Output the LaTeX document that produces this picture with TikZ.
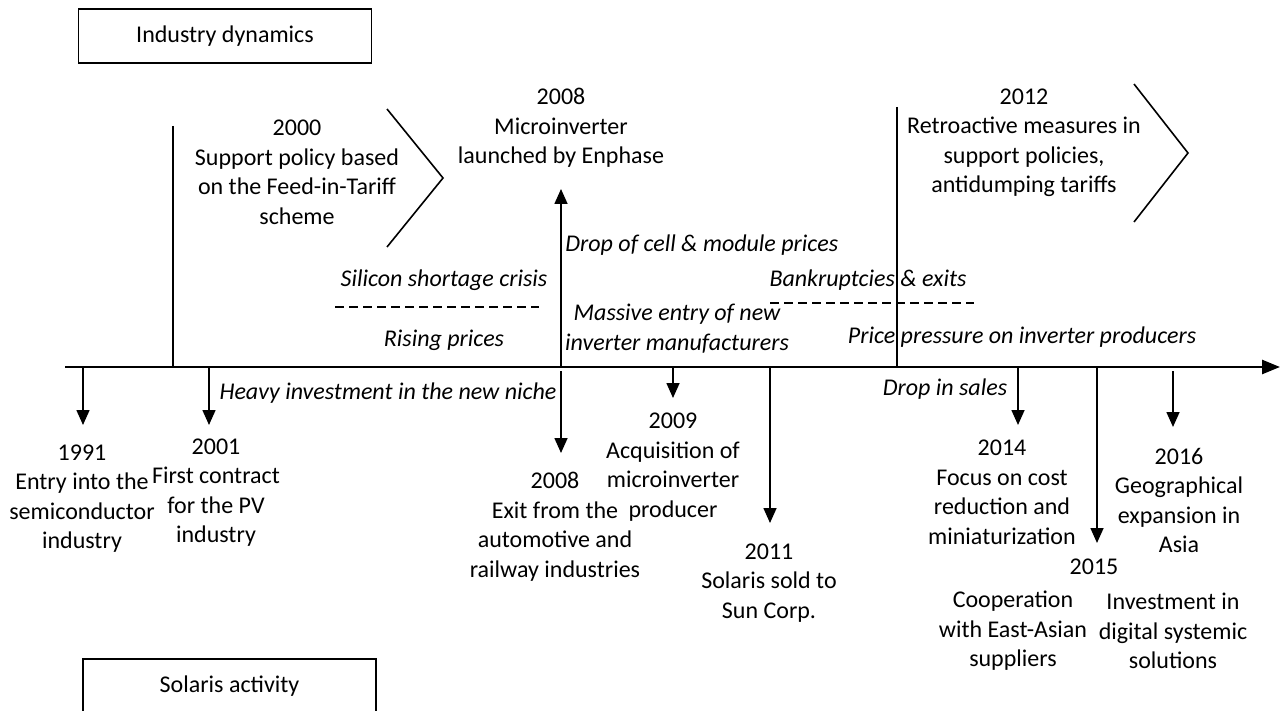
\documentclass[tikz,border=0pt]{standalone}
\usepackage{fontspec}
\setmainfont{Carlito}
\usetikzlibrary{arrows.meta}
\tikzset{
  evt/.style={align=center,inner sep=0pt,font=\fontsize{12}{14.75}\selectfont},
  trend/.style={evt,font=\fontsize{12}{14.75}\selectfont\itshape},
  headbox/.style={draw,line width=0.8pt,minimum width=146.5pt,minimum height=27pt,inner sep=0pt,font=\fontsize{12}{14.75}\selectfont},
  tick/.style={-{Triangle[width=6.5pt,length=7.5pt]},line width=0.8pt},
  split/.style={line width=0.8pt,dash pattern=on 4.5pt off 2.5pt}
}
\begin{document}
\begin{tikzpicture}[x=0.5pt,y=-0.5pt]
      \useasboundingbox (0,0) rectangle (1280,711);
      \path
        (225,36) node[headbox] (ind){Industry dynamics}
        (229.5,686) node[headbox] (sol){Solaris activity}
        (297,172.5) node[evt] (p2000){2000\\Support policy based\\on the Feed-in-Tariff\\scheme}
        (561,128) node[evt] (p2008){2008\\Microinverter\\launched by Enphase}
        (1024,143) node[evt] (p2012){2012\\Retroactive measures in\\support policies,\\antidumping tariffs}
        (444,280) node[trend] (silicon){Silicon shortage crisis}
        (444,340) node[trend] (rising){Rising prices}
        (565,245) node[trend,anchor=west] (dropcell){Drop of cell \& module prices}
        (677,328.5) node[trend] (massive){Massive entry of new\\inverter manufacturers}
        (868,280) node[trend] (bankrupt){Bankruptcies \& exits}
        (1022,337) node[trend] (pressure){Price pressure on inverter producers}
        (388,393) node[trend] (heavy){Heavy investment in the new niche}
        (945,389) node[trend] (dropsales){Drop in sales}
        (82,498.5) node[evt] (t1991){1991\\Entry into the\\semiconductor\\industry}
        (216,492.5) node[evt] (t2001){2001\\First contract\\for the PV\\industry}
        (555,526.5) node[evt] (t2008){2008\\Exit from the\\automotive and\\railway industries}
        (673,467) node[evt] (t2009){2009\\Acquisition of\\microinverter\\producer}
        (769,583) node[evt] (t2011){2011\\Solaris sold to\\Sun Corp.}
        (1002,492.5) node[evt] (t2014){2014\\Focus on cost\\reduction and\\miniaturization}
        (1094,567) node[evt] (t2015){2015}
        (1179,500.5) node[evt] (t2016){2016\\Geographical\\expansion in\\Asia}
        (1013,631) node[evt] (coop){Cooperation\\with East-Asian\\suppliers}
        (1173,631) node[evt] (invest){Investment in\\digital systemic\\solutions};
      \path
        (65,367) coordinate (ax0)
        (1280,367) coordinate (ax1)
        (173,126) coordinate (cut0)
        (173,367) coordinate (cut1)
        (897,107) coordinate (cut2)
        (897,367) coordinate (cut3)
        (83,367) coordinate (a1991)
        (83,425) coordinate (b1991)
        (209,367) coordinate (a2001)
        (209,425) coordinate (b2001)
        (561,367) coordinate (a2008)
        (561,189) coordinate (up2008)
        (561,371) coordinate (c2008)
        (561,453) coordinate (b2008)
        (673,367) coordinate (a2009)
        (673,398) coordinate (b2009)
        (770,367) coordinate (a2011)
        (770,523) coordinate (b2011)
        (1018,367) coordinate (a2014)
        (1018,425) coordinate (b2014)
        (1097,367) coordinate (a2015)
        (1097,543) coordinate (b2015)
        (1173,371) coordinate (a2016)
        (1173,427) coordinate (b2016);
      \draw[line width=1.3pt,-{Triangle[width=7pt,length=9pt]}] (ax0) to (ax1);
      \begin{scope}[line width=0.8pt]
        \draw (cut0) to (cut1);
        \draw (cut2) to (cut3);
        \draw (387,109) -- (443,178) -- (387,247);
        \draw (1134,84) -- (1188,153) -- (1134,222);
        \draw[split] (335,307) -- (539,307);
        \draw[split] (770,303) -- (974,303);
      \end{scope}
      \begin{scope}[tick]
        \draw (a2008) to (up2008);
        \draw (a1991) to (b1991);
        \draw (a2001) to (b2001);
        \draw (c2008) to (b2008);
        \draw (a2009) to (b2009);
        \draw (a2011) to (b2011);
        \draw (a2014) to (b2014);
        \draw (a2015) to (b2015);
        \draw (a2016) to (b2016);
      \end{scope}
    \end{tikzpicture}
\end{document}
